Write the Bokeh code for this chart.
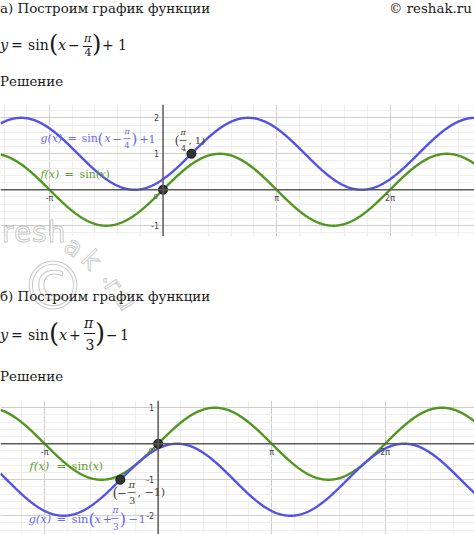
import numpy as np
from bokeh.plotting import figure
from bokeh.layouts import column
from bokeh.models import Div, Span, Label, BoxAnnotation, FixedTicker
from bokeh.embed import file_html
from bokeh.resources import INLINE
from bokeh.core.properties import value

PI = np.pi

# ---- part а): f(x) = sin(x), g(x) = sin(x - π/4) + 1 ----
a_phase = -PI / 4
a_lift = 1
a_points_x = [0, PI / 4]
a_points_y = [0, 1]
a_x_range = (-1.432 * PI, 2.744 * PI)
a_y_range = (-1.30, 2.37)
a_y_ticks = [-1, 1, 2]
a_y_tick_labels = ["-1", "1", "2"]

# ---- part б): f(x) = sin(x), g(x) = sin(x + π/3) - 1 ----
b_phase = PI / 3
b_lift = -1
b_points_x = [0, -PI / 3]
b_points_y = [0, -1]
b_x_range = (-1.389 * PI, 2.787 * PI)
b_y_range = (-2.52, 1.20)
b_y_ticks = [-2, -1, 1]
b_y_tick_labels = ["-2", "-1", "1"]

x_ticks = [-PI, PI, 2 * PI]
x_tick_labels = ["-π", "π", "2π"]

BLUE = "#5252e8"
GREEN = "#51961f"
BLUE_TXT = "#6c6cf2"
GREEN_TXT = "#5f9e2e"
SERIF = "DejaVu Serif"
INK = "#1a1a1a"
GREY_TXT = "#444444"


def graph(x_range, y_range, height, phase, lift, px, py, y_ticks, y_labels):
    p = figure(width=474, height=height, x_range=x_range, y_range=y_range,
               output_backend="svg", toolbar_location=None, min_border=0,
               background_fill_color="white", border_fill_color="white",
               outline_line_color=None)
    p.xaxis.visible = False
    p.yaxis.visible = False
    minor_x = [k * PI / 5 for k in range(-10, 20) if k % 5 != 0]
    minor_y = [k / 5 for k in range(-15, 15) if k % 5 != 0]
    p.xgrid.ticker = FixedTicker(ticks=[-PI, PI, 2 * PI], minor_ticks=minor_x)
    p.ygrid.ticker = FixedTicker(ticks=[-2, -1, 1, 2], minor_ticks=minor_y)
    for g in (p.xgrid, p.ygrid):
        g.grid_line_color = "#cdcdcd"
        g.grid_line_width = 1
        g.minor_grid_line_color = "#eeeeee"
        g.minor_grid_line_width = 1

    # axes through the origin
    p.add_layout(Span(location=0, dimension="width", line_color="#5a5a5a", line_width=1.5))
    p.add_layout(Span(location=0, dimension="height", line_color="#5a5a5a", line_width=1.5))

    xs = np.linspace(x_range[0], x_range[1], 700)
    p.line(xs, np.sin(xs), line_color=GREEN, line_width=2.4)
    p.line(xs, np.sin(xs + phase) + lift, line_color=BLUE, line_width=2.4)

    # tick labels
    p.text(x=x_ticks, y=[0] * len(x_ticks), text=x_tick_labels, y_offset=4,
           text_align="center", text_baseline="top", text_font=value("DejaVu Sans"),
           text_font_size="8px", text_color=GREY_TXT)
    p.text(x=[0] * len(y_ticks), y=y_ticks, text=y_labels, x_offset=-4,
           text_align="right", text_baseline="middle", text_font=value("DejaVu Sans"),
           text_font_size="8px", text_color=GREY_TXT)
    p.text(x=[0], y=[0], text=["0"], x_offset=-5, y_offset=3,
           text_align="right", text_baseline="top", text_font=value("DejaVu Sans"),
           text_font_size="7px", text_color="#666666")

    p.scatter(px, py, size=9, fill_color="#333333", line_color="#111111", line_width=1)
    return p


def lab(p, x, y, txt, size=11, color=INK, italic=False):
    p.add_layout(Label(x=x, y=y, x_units="screen", y_units="screen", text=txt,
                       text_font=SERIF, text_font_size=f"{size}px", text_color=color,
                       text_font_style="italic" if italic else "normal",
                       text_align="left", text_baseline="middle"))


def bar(p, left, right, y, color):
    p.add_layout(BoxAnnotation(left=left, right=right, bottom=y - 0.5, top=y + 0.5,
                               left_units="screen", right_units="screen",
                               bottom_units="screen", top_units="screen",
                               fill_color=color, fill_alpha=0.8, line_color=None))


# ---------------- figure а ----------------
p1 = graph(a_x_range, a_y_range, 132, a_phase, a_lift, a_points_x, a_points_y,
           a_y_ticks, a_y_tick_labels)
r = 98
lab(p1, 40, r, "g(x)", 11, BLUE_TXT, True)
lab(p1, 67, r, "=", 11, BLUE_TXT)
lab(p1, 81, r, "sin", 11, BLUE_TXT)
lab(p1, 97, r, "(", 15, BLUE_TXT)
lab(p1, 104, r, "x", 11, BLUE_TXT, True)
lab(p1, 112, r, "−", 11, BLUE_TXT)
lab(p1, 124, r + 7, "π", 8, BLUE_TXT, True)
bar(p1, 123, 130, r, BLUE_TXT)
lab(p1, 124, r - 7, "4", 8, BLUE_TXT)
lab(p1, 131, r, ")", 15, BLUE_TXT)
lab(p1, 139, r, "+", 11, BLUE_TXT)
lab(p1, 148, r, "1", 11, BLUE_TXT)
r = 62
lab(p1, 40, r, "f(x)", 11, GREEN_TXT, True)
lab(p1, 64, r, "=", 11, GREEN_TXT)
lab(p1, 79, r, "sin(", 11, GREEN_TXT)
lab(p1, 99, r, "x", 11, GREEN_TXT, True)
lab(p1, 105, r, ")", 11, GREEN_TXT)
r = 96
lab(p1, 174, r, "(", 13, GREY_TXT)
lab(p1, 180, r + 8, "π", 8, GREY_TXT, True)
bar(p1, 179, 186, r, GREY_TXT)
lab(p1, 180.5, r - 8, "4", 8, GREY_TXT)
lab(p1, 188, r, ", 1)", 10, GREY_TXT)

# ---------------- figure б ----------------
p2 = graph(b_x_range, b_y_range, 134, b_phase, b_lift, b_points_x, b_points_y,
           b_y_ticks, b_y_tick_labels)
r = 69
lab(p2, 29, r, "f(x)", 11.5, GREEN_TXT, True)
lab(p2, 56, r, "=", 11.5, GREEN_TXT)
lab(p2, 71, r, "sin(", 11.5, GREEN_TXT)
lab(p2, 92, r, "x", 11.5, GREEN_TXT, True)
lab(p2, 98, r, ")", 11.5, GREEN_TXT)
r = 42
lab(p2, 112, r, "(", 14, GREY_TXT)
lab(p2, 117, r, "−", 11, GREY_TXT)
lab(p2, 128, r + 8, "π", 10, GREY_TXT, True)
bar(p2, 127, 135, r, GREY_TXT)
lab(p2, 128.5, r - 8, "3", 10, GREY_TXT)
lab(p2, 137, r, ", −1)", 11, GREY_TXT)
r = 16
lab(p2, 28, r, "g(x)", 11.5, BLUE_TXT, True)
lab(p2, 56, r, "=", 11.5, BLUE_TXT)
lab(p2, 71, r, "sin", 11.5, BLUE_TXT)
lab(p2, 88, r, "(", 17, BLUE_TXT)
lab(p2, 94, r, "x", 11.5, BLUE_TXT, True)
lab(p2, 102, r, "+", 11.5, BLUE_TXT)
lab(p2, 112, r + 9, "π", 9, BLUE_TXT, True)
bar(p2, 111, 118, r, BLUE_TXT)
lab(p2, 112.5, r - 8, "3", 9, BLUE_TXT)
lab(p2, 119, r, ")", 17, BLUE_TXT)
lab(p2, 128, r, "−", 11.5, BLUE_TXT)
lab(p2, 138, r, "1", 11.5, BLUE_TXT)


# ---------------- page text ----------------
def span(txt, left, cy, size=14, italic=False, color=INK, extra="", font="'DejaVu Serif'"):
    st = (f"position:absolute;left:{left}px;top:{cy}px;transform:translateY(-52%);"
          f"font-family:{font};font-size:{size}px;line-height:1;white-space:nowrap;color:{color};")
    if italic:
        st += "font-style:italic;"
    return f'<span style="{st}{extra}">{txt}</span>'


def hbar(left, top, width):
    return (f'<span style="position:absolute;left:{left}px;top:{top}px;width:{width}px;'
            f'height:0;border-top:1px solid {INK};"></span>')


TS = 13.4  # body text size
head_a = "".join([
    span("а) Построим график функции", 0, 9, TS),
    span("© reshak.ru", 389, 9, TS),
    span("y", 0, 46, 14.5, True),
    span("=", 11, 45),
    span("sin", 28, 45),
    span("(", 49, 44, 24, extra="font-weight:300;"),
    span("x", 58, 46, 14.5, True),
    span("−", 68, 45),
    span("π", 84, 39, 11, True),
    hbar(83, 46, 9),
    span("4", 84.5, 53, 11),
    span(")", 92, 44, 24, extra="font-weight:300;"),
    span("+", 102, 45),
    span("1", 118, 45),
    span("Решение", 0, 82, TS),
])

mark = "color:rgba(255,255,255,0.5);-webkit-text-stroke:1px rgba(135,135,135,0.45);"
SANS = "'DejaVu Sans'"
wm = "".join([
    span("resh", 2, -2, 28, extra=mark + "letter-spacing:1px;", font=SANS),
    span("a", 66, 12, 26, extra=mark + "transform:translateY(-55%) rotate(35deg);", font=SANS),
    span("k", 84, 25, 26, extra=mark + "transform:translateY(-55%) rotate(45deg);", font=SANS),
    span(".", 101, 38, 26, extra=mark, font=SANS),
    span("r", 108, 50, 26, extra=mark + "transform:translateY(-55%) rotate(55deg);", font=SANS),
    span("u", 118, 66, 26, extra=mark + "transform:translateY(-55%) rotate(58deg);", font=SANS),
    span("©", 20, 52, 66, extra=mark, font=SANS),
])

head_b = "".join([
    wm,
    span("б) Построим график функции", 0, 61, TS),
    span("y", 0, 100, 14.5, True),
    span("=", 11, 99),
    span("sin", 28, 99),
    span("(", 49, 98, 26, extra="font-weight:300;"),
    span("x", 59, 100, 14.5, True),
    span("+", 69, 99),
    span("π", 84, 87, 14, True),
    hbar(84, 97, 11),
    span("3", 85.5, 109, 14),
    span(")", 95, 98, 26, extra="font-weight:300;"),
    span("−", 106, 99),
    span("1", 120, 99),
    span("Решение", 0, 141, TS),
])

box = "position:relative;width:474px;"
d1 = Div(text=f'<div style="{box}height:104px;">{head_a}</div>', width=474, height=104,
         margin=0, styles={"overflow": "visible"})
d2 = Div(text=f'<div style="{box}height:164px;">{head_b}</div>', width=474, height=164,
         margin=0, styles={"overflow": "visible", "z-index": "5"})

page = column(d1, p1, d2, p2, spacing=0, margin=0)
open("out.html", "w").write(file_html(page, INLINE))
